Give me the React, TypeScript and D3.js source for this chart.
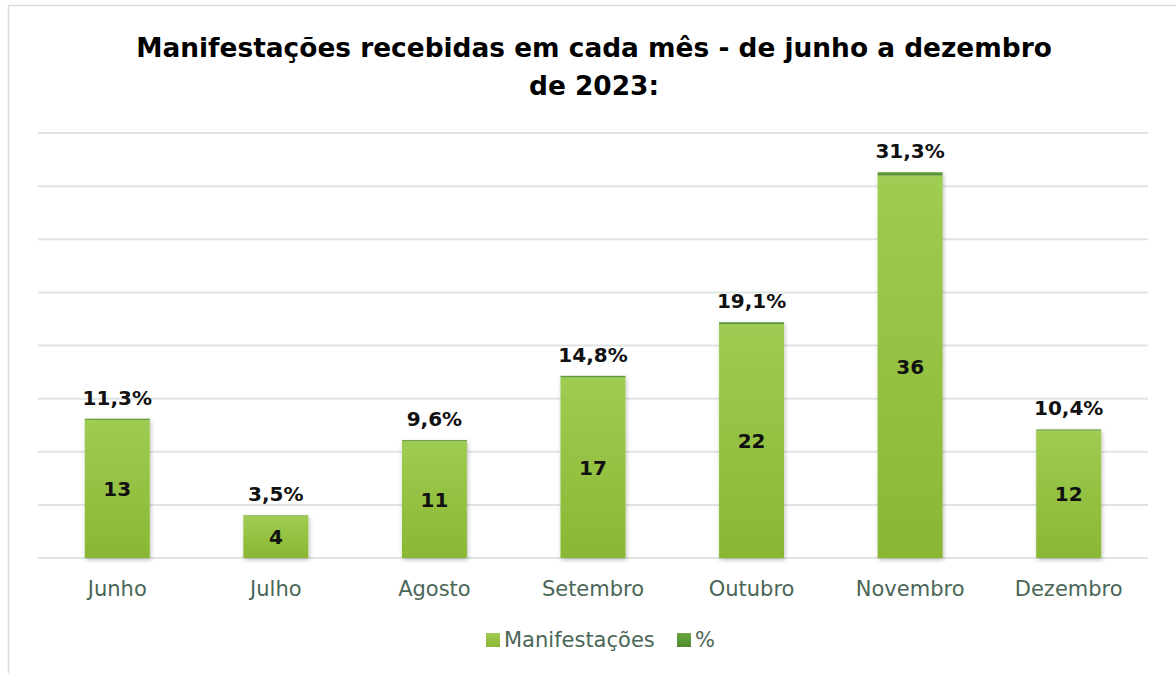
import React from "react";
import * as d3 from "d3";

const categories = ["Junho", "Julho", "Agosto", "Setembro", "Outubro", "Novembro", "Dezembro"];
const manifestacoes = [13, 4, 11, 17, 22, 36, 12];
const percent = [0.113, 0.035, 0.096, 0.148, 0.191, 0.313, 0.104];
const percentLabels = ["11,3%", "3,5%", "9,6%", "14,8%", "19,1%", "31,3%", "10,4%"];
const yTicks = [0, 5, 10, 15, 20, 25, 30, 35, 40];

const W = 1176;
const H = 673;
const M = { left: 38, right: 1148, top: 133, bottom: 558 };

export default function App() {
  const x = d3.scaleBand<string>().domain(categories).range([M.left, M.right]).paddingInner(0.59).paddingOuter(0.295);
  const y = d3.scaleLinear().domain([0, 40]).range([M.bottom, M.top]);
  const bw = x.bandwidth();
  const font = "'DejaVu Sans', Verdana, sans-serif";
  const axisColor = "#4a6656";
  return (
    <svg width={W} height={H} style={{ position: "absolute", left: 0, top: 0, background: "#fff" }}>
      <defs>
        <linearGradient id="gLight" x1="0" y1="0" x2="0" y2="1">
          <stop offset="0" stopColor="#9fcc52" />
          <stop offset="1" stopColor="#8ab733" />
        </linearGradient>
        <linearGradient id="gDark" x1="0" y1="0" x2="0" y2="1">
          <stop offset="0" stopColor="#6aa640" />
          <stop offset="1" stopColor="#4f8a2e" />
        </linearGradient>
        <filter id="sh" x="-20%" y="-20%" width="140%" height="140%">
          <feDropShadow dx="1" dy="2" stdDeviation="2" floodColor="#000" floodOpacity="0.25" />
        </filter>
      </defs>
      <rect x={8.5} y={5.5} width={1175} height={700} fill="#fff" stroke="#d9dedb" strokeWidth={1.5} />
      <text x={594} y={57} textAnchor="middle" fontFamily={font} fontWeight="bold" fontSize={26.4} fill="#000">
        Manifestações recebidas em cada mês - de junho a dezembro
      </text>
      <text x={594} y={95} textAnchor="middle" fontFamily={font} fontWeight="bold" fontSize={26.4} fill="#000">
        de 2023:
      </text>
      {yTicks.map((t) => (
        <line key={t} x1={M.left} x2={M.right} y1={y(t)} y2={y(t)} stroke="#dfe5e2" strokeWidth={2} />
      ))}
      {categories.map((c, i) => {
        const x0 = x(c)!;
        const v = manifestacoes[i];
        const p = percent[i];
        return (
          <g key={c}>
            <g filter="url(#sh)">
              <rect x={x0} y={y(v)} width={bw} height={y(0) - y(v)} fill="url(#gLight)" />
              <rect x={x0} y={y(v + p)} width={bw} height={y(v) - y(v + p)} fill="url(#gDark)" />
            </g>
            <text x={x0 + bw / 2} y={(y(0) + y(v)) / 2 + 7} textAnchor="middle" fontFamily={font} fontWeight="bold" fontSize={20} fill="#111">
              {v}
            </text>
            <text x={x0 + bw / 2} y={y(v + p) - 14} textAnchor="middle" fontFamily={font} fontWeight="bold" fontSize={20} fill="#111">
              {percentLabels[i]}
            </text>
            <text x={x0 + bw / 2} y={596} textAnchor="middle" fontFamily={font} fontSize={21} fill={axisColor}>
              {c}
            </text>
          </g>
        );
      })}
      <g>
        <rect x={486} y={633} width={14} height={14} fill="url(#gLight)" />
        <text x={504} y={647} fontFamily={font} fontSize={21} fill={axisColor}>Manifestações</text>
        <rect x={677} y={633} width={14} height={14} fill="url(#gDark)" />
        <text x={695} y={647} fontFamily={font} fontSize={21} fill={axisColor}>%</text>
      </g>
    </svg>
  );
}
